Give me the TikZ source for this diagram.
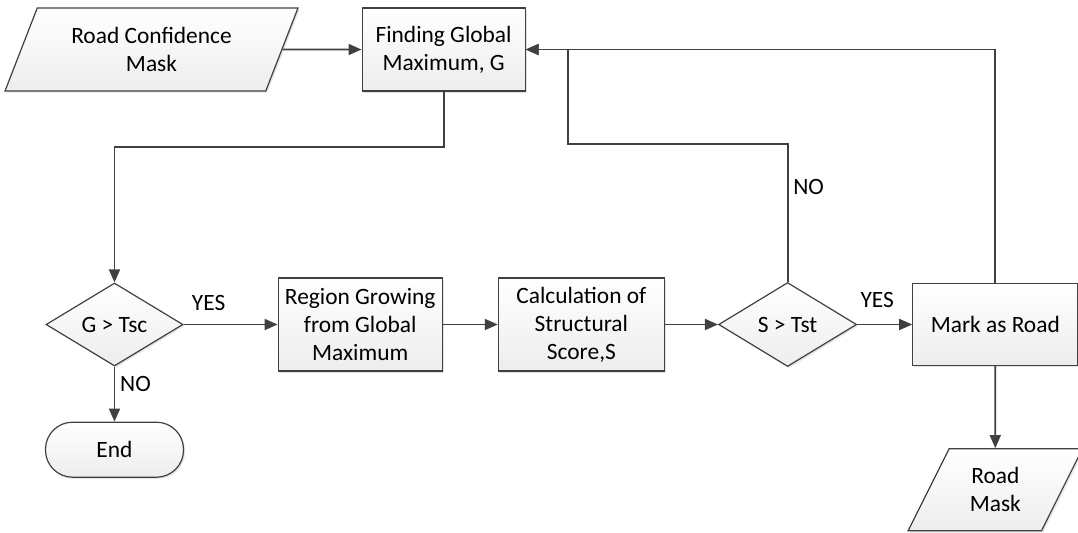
\documentclass[tikz,border=0pt]{standalone}
\usepackage{fontspec}
\setmainfont{Carlito}
\usetikzlibrary{shapes.geometric, arrows.meta, positioning, calc, shadows}
\definecolor{linegray}{HTML}{404040}
\tikzstyle{process} = [rectangle, align=center, draw=linegray, line width=0.6pt, top color=white, bottom color=black!7, drop shadow={shadow xshift=0.8pt, shadow yshift=-0.8pt, opacity=0.22}, inner sep=1pt]
\tikzstyle{decision} = [diamond, align=center, draw=linegray, line width=0.6pt, top color=white, bottom color=black!7, drop shadow={shadow xshift=0.8pt, shadow yshift=-0.8pt, opacity=0.22}, inner sep=0pt]
\tikzstyle{io} = [trapezium, trapezium left angle=63, trapezium right angle=117, trapezium stretches=true, align=center, draw=linegray, line width=0.6pt, top color=white, bottom color=black!7, drop shadow={shadow xshift=0.8pt, shadow yshift=-0.8pt, opacity=0.22}, inner sep=0pt]
\tikzstyle{terminal} = [rectangle, rounded corners=13.5pt, align=center, draw=linegray, line width=0.6pt, top color=white, bottom color=black!7, drop shadow={shadow xshift=0.8pt, shadow yshift=-0.8pt, opacity=0.22}, inner sep=1pt]
\tikzstyle{arrow} = [draw=linegray, line width=0.9pt, -{Triangle[length=6.5pt,width=5.5pt]}]
\tikzstyle{lbl} = [inner sep=0pt]

\begin{document}
\begin{tikzpicture}[x=0.5pt, y=-0.5pt, font=\fontsize{11.7}{14}\selectfont]
    \useasboundingbox (0,0) rectangle (1078,532);
    \node (rcm) [io, minimum width=146.5pt, minimum height=41.5pt] at (151.5,49.5) {Road Confidence\\Mask};
    \node (find) [process, right=39.5pt of rcm, minimum width=81.5pt, minimum height=41.5pt] {Finding Global\\Maximum, G};
    \node (gt) [decision, minimum width=68.5pt, minimum height=41.5pt] at (114.5,324.5) {G > Tsc};
    \node (region) [process, right=47pt of gt, minimum width=82pt, minimum height=46.5pt] {Region Growing\\from Global\\Maximum};
    \node (calc) [process, right=27.5pt of region, minimum width=83pt, minimum height=46.5pt] {Calculation of\\Structural\\Score,S};
    \node (st) [decision, right=26.5pt of calc, minimum width=69pt, minimum height=42pt] {S > Tst};
    \node (mark) [process, right=27.5pt of st, minimum width=82.5pt, minimum height=41pt] {Mark as Road};
    \node (end) [terminal, below=27.5pt of gt, minimum width=69pt, minimum height=27.5pt] {End};
    \node (mask) [io, below=41pt of mark, minimum width=87.5pt, minimum height=41pt] {Road\\Mask};

    \node (yes1) [lbl] at ($(gt.east)+(25,-22)$) {YES};
    \node (no1) [lbl] at ($(gt.south)+(21,17)$) {NO};
    \node (yes2) [lbl] at ($(st.east)+(20,-25)$) {YES};
    \node (no2) [lbl] at ($(st.north)+(21,-95)$) {NO};

    \draw [arrow] (rcm) -- (find);
    \draw [arrow] (find.south) -- ++(0,55) -| (gt.north);
    \draw [arrow] (gt) -- (region);
    \draw [arrow] (gt) -- (end);
    \draw [arrow] (region) -- (calc);
    \draw [arrow] (calc) -- (st);
    \draw [arrow] (st) -- (mark);
    \draw [arrow] (st.north) -- ++(0,-138) -| ($(find.east)+(42,0)$) -- (find.east);
    \draw [arrow] (mark.north) |- (find.east);
    \draw [arrow] (mark) -- (mask);
\end{tikzpicture}
\end{document}
